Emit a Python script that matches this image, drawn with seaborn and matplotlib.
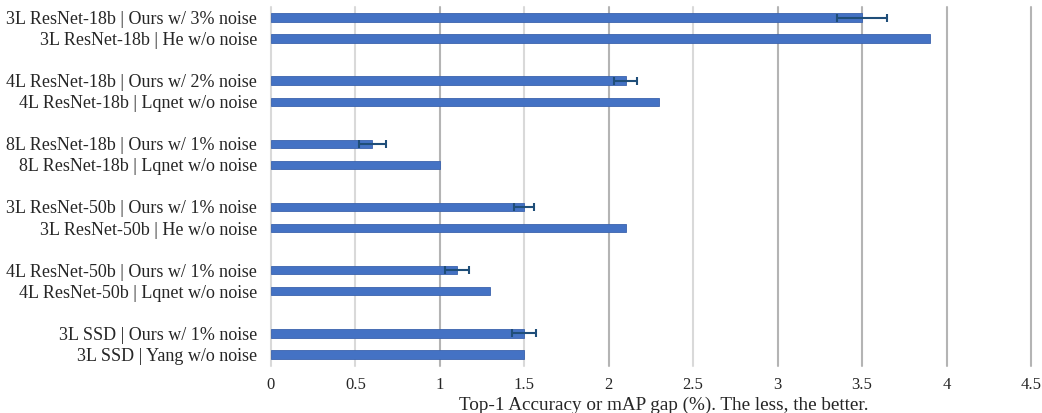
import numpy as np
import pandas as pd
import seaborn as sns
from matplotlib import pyplot as plt

# Data (top to bottom)
labels = [
    "3L ResNet-18b | Ours w/ 3% noise", "3L ResNet-18b | He w/o noise",
    "4L ResNet-18b | Ours w/ 2% noise", "4L ResNet-18b | Lqnet w/o noise",
    "8L ResNet-18b | Ours w/ 1% noise", "8L ResNet-18b | Lqnet w/o noise",
    "3L ResNet-50b | Ours w/ 1% noise", "3L ResNet-50b | He w/o noise",
    "4L ResNet-50b | Ours w/ 1% noise", "4L ResNet-50b | Lqnet w/o noise",
    "3L SSD | Ours w/ 1% noise", "3L SSD | Yang w/o noise",
]
gaps = [3.5, 3.9, 2.1, 2.3, 0.6, 1.0, 1.5, 2.1, 1.1, 1.3, 1.5, 1.5]
errs = [0.15, 0.0, 0.07, 0.0, 0.08, 0.0, 0.06, 0.0, 0.07, 0.0, 0.07, 0.0]

# pairs separated by one empty slot
pos = [(i // 2) * 3 + (i % 2) for i in range(len(labels))]
df = pd.DataFrame({"label": labels, "gap": gaps, "err": errs, "pos": pos})

sns.set_style("white")
plt.rcParams["font.family"] = ["Liberation Serif", "DejaVu Serif"]

fig, ax = plt.subplots(figsize=(10.42, 4.13), dpi=100)
fig.subplots_adjust(left=0.260, right=0.9894, top=0.983, bottom=0.114)

sns.barplot(data=df, x="gap", y="pos", orient="h", native_scale=True,
            color="#4472C4", saturation=1, width=0.4, ax=ax,
            edgecolor="#3b63ad", linewidth=0.6, zorder=3)

ours = df[df["err"] > 0]
ax.errorbar(ours["gap"], ours["pos"], xerr=ours["err"], fmt="none",
            ecolor="#1f4e79", elinewidth=1.5, capsize=3, capthick=1.5, zorder=4)

# grid lines
for v in np.arange(0, 4.51, 0.5):
    c = "#d9d9d9" if v in (0, 0.5, 1.5, 2.5) else "#b4b4b4"
    ax.axvline(v, color=c, lw=1.5, zorder=1, clip_on=False)

ax.set_xlim(0, 4.5)
ax.set_ylim(16.55, -0.5)
ax.set_xticks(np.arange(0, 4.51, 0.5))
ax.set_xticklabels(["0", "0.5", "1", "1.5", "2", "2.5", "3", "3.5", "4", "4.5"])
ax.set_yticks(df["pos"])
ax.set_yticklabels(df["label"])
ax.tick_params(axis="y", length=0, labelsize=13, pad=10)
ax.tick_params(axis="x", length=0, labelsize=12, pad=8)
ax.set_ylabel("")
ax.set_xlabel("Top-1 Accuracy or mAP gap (%). The less, the better.", fontsize=13.8)
ax.xaxis.set_label_coords(0.517, -0.085)
ax.xaxis.label.set_va("top")
sns.despine(ax=ax, left=True, bottom=True)

fig.savefig("out.png", dpi=100)
